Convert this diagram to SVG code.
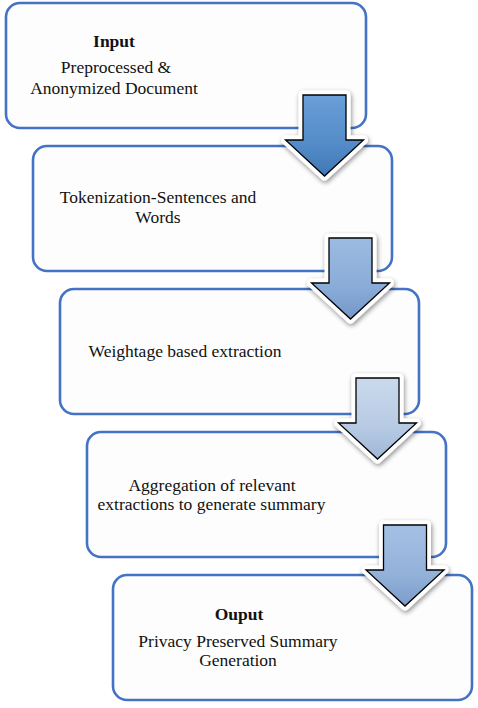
<svg xmlns="http://www.w3.org/2000/svg" width="478" height="708" viewBox="0 0 478 708">
<style>
.box{fill:#fdfdfd;stroke:#4472c4;stroke-width:2.6}
text{font-family:'Liberation Serif','DejaVu Serif',serif;font-size:17.5px;fill:#111;text-anchor:middle;font-weight:normal}
text.b{font-weight:bold}
.halo{fill:#fff;stroke:#fff;stroke-width:9;stroke-linejoin:round;filter:url(#sh)}
.arr{stroke:#000;stroke-width:1.3;stroke-linejoin:miter}
</style>
<defs>
<filter id="sh" x="-30%" y="-30%" width="160%" height="160%">
<feGaussianBlur in="SourceAlpha" stdDeviation="2.5"/>
<feOffset dx="1" dy="2" result="o"/>
<feComponentTransfer><feFuncA type="linear" slope="0.45"/></feComponentTransfer>
<feMerge><feMergeNode/><feMergeNode in="SourceGraphic"/></feMerge>
</filter>
<linearGradient id="g1" x1="0" y1="0" x2="0" y2="1"><stop offset="0" stop-color="#6a9fd8"/><stop offset="0.6" stop-color="#538cc8"/><stop offset="1" stop-color="#3f78b6"/></linearGradient>
<linearGradient id="g2" x1="0" y1="0" x2="0" y2="1"><stop offset="0" stop-color="#9cbbe3"/><stop offset="0.6" stop-color="#8aacd8"/><stop offset="1" stop-color="#7397c8"/></linearGradient>
<linearGradient id="g3" x1="0" y1="0" x2="0" y2="1"><stop offset="0" stop-color="#cad9ed"/><stop offset="0.6" stop-color="#b7cbe4"/><stop offset="1" stop-color="#9fb6d6"/></linearGradient>
<linearGradient id="g4" x1="0" y1="0" x2="0" y2="1"><stop offset="0" stop-color="#a6c0e4"/><stop offset="0.6" stop-color="#93b2d9"/><stop offset="1" stop-color="#7c9ccb"/></linearGradient>
<path id="ar" d="M-21.5 0 H21.5 V45 H39 L0 81 L-39 45 H-21.5 Z"/>
</defs>
<g id="node1"><rect class="box" x="6" y="3" width="360" height="125" rx="14"/>
<text class="b" x="114" y="47">Input</text>
<text x="116" y="73">Preprocessed &amp;</text>
<text x="114" y="94">Anonymized Document</text></g>
<g id="node2"><rect class="box" x="33" y="146" width="359" height="125" rx="14"/>
<text x="158" y="203">Tokenization-Sentences and</text>
<text x="158" y="223">Words</text></g>
<g id="node3"><rect class="box" x="60" y="289" width="359" height="125" rx="14"/>
<text x="185" y="357">Weightage based extraction</text></g>
<g id="node4"><rect class="box" x="87" y="432" width="359" height="125" rx="14"/>
<text x="212" y="491">Aggregation of relevant</text>
<text x="211.5" y="510">extractions to generate summary</text></g>
<g id="node5"><rect class="box" x="113" y="575" width="359" height="125" rx="14"/>
<text class="b" x="239" y="620">Ouput</text>
<text x="238" y="647">Privacy Preserved Summary</text>
<text x="238" y="666">Generation</text></g>
<g id="connectors">
<g transform="translate(324.5,95)"><use href="#ar" class="halo"/><use href="#ar" class="arr" fill="url(#g1)"/></g>
<g transform="translate(350.5,238)"><use href="#ar" class="halo"/><use href="#ar" class="arr" fill="url(#g2)"/></g>
<g transform="translate(377.5,378)"><use href="#ar" class="halo"/><use href="#ar" class="arr" fill="url(#g3)"/></g>
<g transform="translate(405,525)"><use href="#ar" class="halo"/><use href="#ar" class="arr" fill="url(#g4)"/></g>
</g>
</svg>
